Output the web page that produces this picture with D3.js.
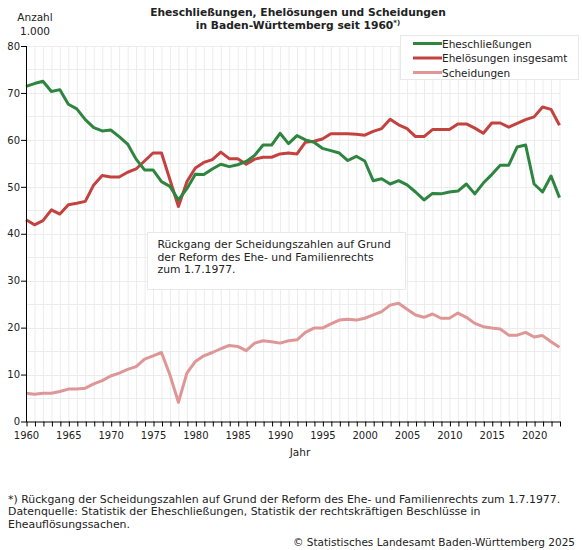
<!DOCTYPE html>
<html><head><meta charset="utf-8">
<script src="https://cdn.jsdelivr.net/npm/d3@7"></script>
<style>body{margin:0;background:#fff}svg{display:block}text{font-family:"DejaVu Sans",Verdana,sans-serif;fill:#222}</style>
</head><body>
<svg id="c" width="582" height="550"></svg>
<script>
const years = d3.range(1960, 2024);
const eheschliessungen = [71.4,72.0,72.5,70.3,70.7,67.6,66.6,64.3,62.6,61.9,62.1,60.7,59.1,55.9,53.6,53.6,51.1,50.1,47.2,49.6,52.7,52.6,53.8,54.8,54.3,54.7,55.4,56.7,58.9,58.9,61.4,59.2,60.9,60.0,59.5,58.2,57.7,57.2,55.6,56.5,55.5,51.3,51.7,50.6,51.3,50.4,48.9,47.2,48.6,48.5,48.9,49.1,50.6,48.5,50.8,52.6,54.6,54.6,58.5,58.9,50.6,48.9,52.3,47.7];
const ehelosungen = [43.0,41.9,42.8,45.1,44.2,46.2,46.5,46.9,50.4,52.4,52.1,52.1,53.1,53.8,55.5,57.2,57.2,51.5,45.8,51.1,54.0,55.2,55.8,57.4,56.0,56.0,54.8,55.9,56.3,56.3,57.0,57.2,57.0,59.5,59.7,60.2,61.3,61.3,61.3,61.2,61.0,61.8,62.4,64.4,63.2,62.4,60.7,60.7,62.2,62.2,62.2,63.4,63.4,62.5,61.4,63.6,63.6,62.7,63.5,64.3,64.9,67.0,66.5,63.1];
const scheidungen = [6.0,5.8,6.0,6.0,6.4,6.9,6.9,7.1,8.0,8.7,9.7,10.3,11.1,11.7,13.3,14.0,14.7,9.9,4.1,10.3,12.8,14.0,14.7,15.5,16.2,16.0,15.1,16.7,17.2,17.0,16.7,17.2,17.4,19.0,19.9,19.9,20.8,21.6,21.8,21.6,22.0,22.7,23.4,24.8,25.2,23.9,22.7,22.2,22.9,22.0,22.0,23.1,22.2,20.9,20.2,19.9,19.7,18.4,18.4,19.0,18.0,18.3,17.0,15.8];
const seriesNames = ["Eheschließungen","Ehelösungen insgesamt","Scheidungen"];
const seriesColors = ["#2e8540","#c3423f","#de9696"];
const yTicks = [0,10,20,30,40,50,60,70,80];
const xTickLabels = [1960,1965,1970,1975,1980,1985,1990,1995,2000,2005,2010,2015,2020];
const annotation = ["Rückgang der Scheidungszahlen auf Grund","der Reform des Ehe- und Familienrechts","zum 1.7.1977."];
const footer = ["*) Rückgang der Scheidungszahlen auf Grund der Reform des Ehe- und Familienrechts zum 1.7.1977.","Datenquelle: Statistik der Eheschließungen, Statistik der rechtskräftigen Beschlüsse in","Eheauflösungssachen."];
const copyright = "© Statistisches Landesamt Baden-Württemberg 2025";

const svg = d3.select("#c");
const x = d3.scaleLinear().domain([1960,2023]).range([26,559.5]);
const y = d3.scaleLinear().domain([0,80]).range([421.5,46]);

// grid
const g = svg.append("g");
g.selectAll(".vg").data(years.slice(1)).join("line")
 .attr("x1",d=>x(d)+0.5).attr("x2",d=>x(d)+0.5).attr("y1",y(0)).attr("y2",y(80))
 .attr("stroke","#ececec").attr("stroke-width",1);
g.selectAll(".hg").data(d3.range(5,81,5)).join("line")
 .attr("x1",x(1960)).attr("x2",x(2023)+0.5).attr("y1",d=>Math.round(y(d))+0.5).attr("y2",d=>Math.round(y(d))+0.5)
 .attr("stroke","#ececec").attr("stroke-width",1);

// annotation box
const ab = svg.append("g");
ab.append("rect").attr("x",147.5).attr("y",232.5).attr("width",258).attr("height",57).attr("fill","#fff").attr("stroke","#e8e8e8");
ab.selectAll("text").data(annotation).join("text").attr("x",157.5).attr("y",(d,i)=>248.3+i*12.3).attr("font-size","10.8px").text(d=>d);

// lines
const data = [eheschliessungen, ehelosungen, scheidungen];
const line = d3.line().x((d,i)=>x(years[i])).y(d=>y(d));
[2,1,0].forEach(k=>{
  svg.append("path").attr("d",line(data[k])).attr("fill","none").attr("stroke",seriesColors[k]).attr("stroke-width",3).attr("stroke-linejoin","round");
});

// axes
const ax = svg.append("g").attr("transform",`translate(0,${y(0)})`)
 .call(d3.axisBottom(x).tickValues(years).tickSize(5).tickFormat(d=>xTickLabels.includes(d)?d:""));
ax.select(".domain").attr("d",`M${x(1960)},0.5H${x(2023)+0.5}`).attr("stroke","#000");
ax.selectAll(".tick line").attr("stroke","#000").attr("transform","translate(0.5,0)");
ax.selectAll(".tick text").attr("font-size","10px").attr("font-family","DejaVu Sans").attr("fill","#222").attr("dy","0.95em");

const ay = svg.append("g").attr("transform",`translate(${x(1960)},0)`)
 .call(d3.axisLeft(y).tickValues(yTicks).tickSize(5).tickFormat(d3.format("d")));
ay.select(".domain").attr("d",`M0.5,${y(80)}V${y(0)+0.5}`).attr("stroke","#000");
ay.selectAll(".tick line").attr("stroke","#000");
ay.selectAll(".tick text").attr("font-size","10px").attr("font-family","DejaVu Sans").attr("fill","#222").attr("x",-6);

// axis titles
svg.append("text").attr("x",35).attr("y",21).attr("text-anchor","middle").attr("font-size","10.5px").text("Anzahl");
svg.append("text").attr("x",35).attr("y",35).attr("text-anchor","middle").attr("font-size","10.5px").text("1.000");
svg.append("text").attr("x",300).attr("y",456).attr("text-anchor","middle").attr("font-size","10.5px").text("Jahr");

// title
const t1 = svg.append("text").attr("x",298).attr("y",16).attr("text-anchor","middle").attr("font-size","10.7px").attr("font-weight","bold").text("Eheschließungen, Ehelösungen und Scheidungen");
const t2 = svg.append("text").attr("x",298).attr("y",29).attr("text-anchor","middle").attr("font-size","10.7px").attr("font-weight","bold");
t2.append("tspan").text("in Baden-Württemberg seit 1960");
t2.append("tspan").attr("font-size","7px").attr("dy","-4").text("*)");

// legend
const lg = svg.append("g");
lg.append("rect").attr("x",400.5).attr("y",35.5).attr("width",178).attr("height",44).attr("fill","#fff").attr("stroke","#e8e8e8");
seriesNames.forEach((n,i)=>{
  const yy = 43.5 + i*14.5;
  lg.append("line").attr("x1",413).attr("x2",442).attr("y1",yy).attr("y2",yy).attr("stroke",seriesColors[i]).attr("stroke-width",3);
  lg.append("text").attr("x",442).attr("y",yy+4).attr("font-size","10.5px").text(n);
});

// footer
svg.selectAll(".ft").data(footer).join("text").attr("x",8).attr("y",(d,i)=>502.5+i*12.6)
 .attr("font-size","10.9px").attr("font-family","DejaVu Sans Condensed, DejaVu Sans").text(d=>d);
svg.append("text").attr("x",575).attr("y",546).attr("text-anchor","end").attr("font-size","10.5px").attr("font-family","DejaVu Sans Condensed, DejaVu Sans").text(copyright);
</script>
</body></html>
